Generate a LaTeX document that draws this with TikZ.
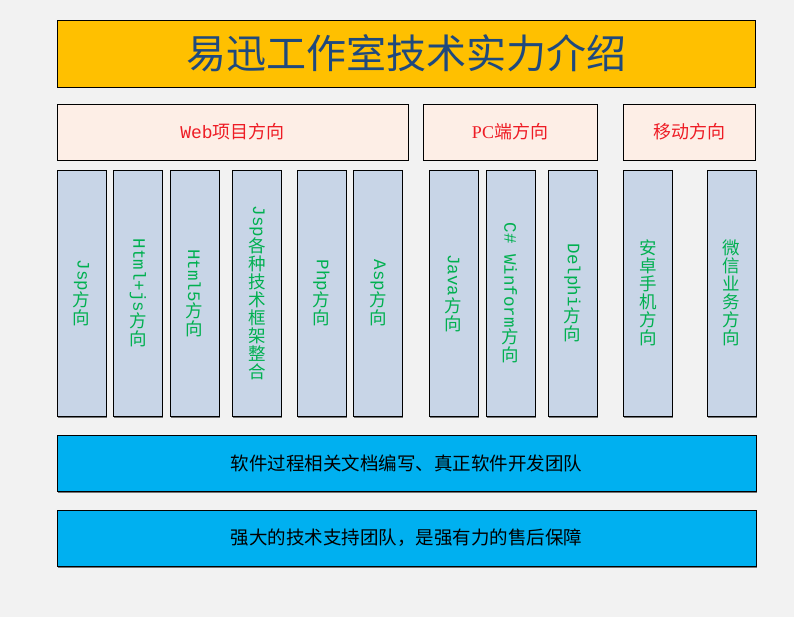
\documentclass[tikz,border=0pt]{standalone}
\usepackage{fontspec}
\setmainfont{Noto Sans CJK SC}
\setmonofont{Liberation Mono}
\newfontfamily\pcfont{Liberation Serif}
\usetikzlibrary{shadows}
\definecolor{titlefill}{HTML}{FFC000}
\definecolor{titleblue}{HTML}{1F497D}
\definecolor{groupfill}{HTML}{FDEEE6}
\definecolor{groupred}{HTML}{EE1C25}
\definecolor{colfill}{HTML}{C8D5E7}
\definecolor{colgreen}{HTML}{00B050}
\definecolor{teamfill}{HTML}{00B0F0}
\definecolor{pagebg}{HTML}{F2F2F2}
\newcommand{\rotlat}[1]{\rotatebox{-90}{\ttfamily #1}}

\begin{document}
\begin{tikzpicture}[x=1pt,y=-1pt,
  box/.style={draw=black,line width=0.8pt,inner sep=0pt,
    drop shadow={shadow xshift=0.8pt,shadow yshift=-1.5pt,fill=black!55,opacity=1}},
  titlebox/.style={box,fill=titlefill,text=titleblue,minimum width=698pt,minimum height=67pt,
    font=\fontsize{40}{46}\selectfont},
  groupbox/.style={box,fill=groupfill,text=groupred,minimum height=56pt,
    font=\fontsize{18}{21}\selectfont},
  colbox/.style={box,fill=colfill,text=colgreen,minimum width=49pt,minimum height=246pt,
    align=center,font=\fontsize{17.5}{18}\selectfont},
  teambox/.style={box,fill=teamfill,text=black,minimum width=699pt,minimum height=56pt,
    font=\fontsize{18.5}{21}\selectfont}]
  \fill[pagebg] (0,0) rectangle (794,617);
  \useasboundingbox (0,0) rectangle (794,617);

  \node[titlebox] (title) at (406,53.5) {易迅工作室技术实力介绍};

  \node[groupbox,minimum width=351pt] (web) at (232.5,132) {{\ttfamily Web}项目方向};
  \node[groupbox,minimum width=174pt] (pc) at (510,132) {{\pcfont PC}端方向};
  \node[groupbox,minimum width=132pt] (mobile) at (689,132) {移动方向};

  \node[colbox] (jsp) at (81.5,293) {\rotlat{Jsp}\\方\\向};
  \node[colbox] (htmljs) at (138,293) {\rotlat{Html+js}\\方\\向};
  \node[colbox] (html5) at (194.5,293) {\rotlat{Html5}\\方\\向};
  \node[colbox] (jspfw) at (257,293) {\rotlat{Jsp}\\各\\种\\技\\术\\框\\架\\整\\合};
  \node[colbox] (php) at (321.5,293) {\rotlat{Php}\\方\\向};
  \node[colbox] (asp) at (378,293) {\rotlat{Asp}\\方\\向};
  \node[colbox] (java) at (453.5,293) {\rotlat{Java}\\方\\向};
  \node[colbox] (winform) at (510.5,293) {\rotlat{C\# Winform}\\方\\向};
  \node[colbox] (delphi) at (572.5,293) {\rotlat{Delphi}\\方\\向};
  \node[colbox] (android) at (648,293) {安\\卓\\手\\机\\方\\向};
  \node[colbox] (wechat) at (731.5,293) {微\\信\\业\\务\\方\\向};

  \node[teambox] (docs) at (406.5,463) {软件过程相关文档编写、真正软件开发团队};
  \node[teambox] (support) at (406.5,538) {强大的技术支持团队，是强有力的售后保障};
\end{tikzpicture}
\end{document}
